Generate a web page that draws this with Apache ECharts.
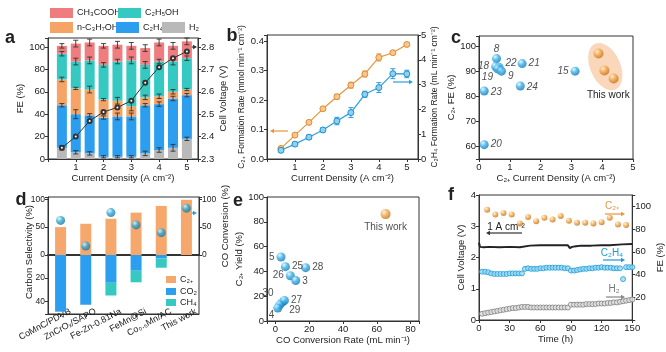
<!DOCTYPE html>
<html>
<head>
<meta charset="utf-8">
<script src="https://cdn.jsdelivr.net/npm/echarts@6/dist/echarts.min.js"></script>
<style>
html, body { margin: 0; padding: 0; background: #fff; }
#chart { width: 666px; height: 352px; }
</style>
</head>
<body>
<div id="chart"></div>
<script>
// ---- panel a : FE stack + cell voltage
var aCurrent = [0.5, 1, 1.5, 2, 2.5, 3, 3.5, 4, 4.5, 5];
var aH2      = [10, 6, 5, 2, 2, 2, 5, 8, 10, 18];
var aC2H4    = [38, 34, 34, 35, 36, 36, 43, 41, 44, 39];
var aPropOH  = [23, 23, 23, 16, 14, 9, 7, 7, 6, 5];
var aEtOH    = [23, 24, 26, 31, 35, 41, 29, 31, 27, 28];
var aAcetic  = [7, 16, 16, 17, 15, 13, 15, 17, 14, 15];
var aErrH2   = [2, 1.5, 1.5, 1, 1, 1, 2, 2, 3, 1.5];
var aErrC2H4 = [1.5, 4, 1.5, 1.5, 3, 3, 1.5, 2, 2, 1.5];
var aErrProp = [2, 1, 3, 1, 3, 4, 2, 2, 2, 1];
var aErrEtOH = [2, 3, 3, 2, 2, 3, 3, 2, 3, 2];
var aErrAcet = [2, 3, 3, 2, 3, 3, 3, 3, 3, 3];
var aVoltage = [2.35, 2.40, 2.47, 2.51, 2.53, 2.56, 2.64, 2.71, 2.75, 2.78];

// ---- panel b : formation rates
var bCurrent = [0.5, 1, 1.5, 2, 2.5, 3, 3.5, 4, 4.5, 5];
var bC2plus  = [0.036, 0.081, 0.124, 0.17, 0.211, 0.25, 0.288, 0.344, 0.36, 0.388];
var bC2plusErr = [0.004, 0.004, 0.004, 0.005, 0.008, 0.01, 0.01, 0.012, 0.005, 0.005];
var bC2H4    = [0.35, 0.6, 0.88, 1.17, 1.53, 1.87, 2.61, 2.88, 3.44, 3.43];
var bC2H4Err = [0.08, 0.08, 0.08, 0.08, 0.15, 0.2, 0.12, 0.2, 0.2, 0.15];

// ---- panel c : literature comparison
var cLabels = ['8', '18', '22', '19', '9', '21', '15', '24', '23', '20'];
var cJ      = [0.57, 0.54, 0.65, 0.6, 0.73, 1.4, 3.12, 1.34, 0.17, 0.17];
var cFE     = [95, 91.8, 91.6, 90.9, 90, 93, 90, 84.1, 82.1, 60.7];
var cOwnJ   = [3.88, 4.07, 4.37];
var cOwnFE  = [97, 90.3, 87.1];

// ---- panel d : thermocatalysis comparison
var dCatalysts = ['CoMnC/PDVB', 'ZnCrOₓ/SAPO', 'Fe-Zn-0.81Na', 'FeMn@Si', 'Co₀.₅Mn/AC', 'This work'];
var dC2plus = [50, 56, 65, 76, 88, 99];
var dCO2    = [49, 43, 24, 13.6, 3, 0];
var dCH4    = [0, 0, 11, 10, 8, 0];
var dCOconv = [62, 16, 76, 54, 40, 84];

// ---- panel e : yield vs conversion rate
var eLabels = ['5', '25', '28', '26', '3', '30', '27', '29', '4'];
var eRate   = [3.3, 5.9, 17.9, 8.8, 12, 3.9, 5.3, 2.5, 1.4];
var eYield  = [51.6, 43.8, 43, 36.5, 32.7, 15, 16.5, 13, 10.5];
var eOwnRate = [65.2];
var eOwnYield = [86.2];

// ---- panel f : stability
var fVt  = [0, 1, 5, 10, 20, 30, 40, 41, 50, 60, 70, 80, 87, 88, 89, 91, 95, 100, 110, 120, 128, 129, 140, 150];
var fV   = [2.47, 2.34, 2.33, 2.34, 2.33, 2.34, 2.33, 2.38, 2.38, 2.39, 2.39, 2.39, 2.39, 2.43, 2.30, 2.34, 2.36, 2.38, 2.38, 2.39, 2.39, 2.42, 2.42, 2.43];
var fC2t = [8, 16, 24, 32, 40, 48, 56, 64, 72, 80, 88, 96, 104, 112, 120, 128, 136, 144];
var fC2FE = [97, 92.8, 94.2, 92.8, 85, 90.7, 87, 89.9, 88.4, 91.6, 87.3, 85.6, 85.6, 85, 86.1, 89.9, 84.1, 83.5];
var fT = [3, 6, 9, 12, 15, 18, 21, 24, 27, 30, 33, 36, 39, 42, 45, 48, 51, 54, 57, 60, 63, 66, 69, 72, 75,
          78, 81, 84, 87, 90, 93, 96, 99, 102, 105, 108, 111, 114, 117, 120, 123, 126, 129, 132, 135, 138, 141, 144, 147, 150];
var fC2H4FE = [42.5, 42.5, 42, 41, 40.5, 40.5, 40.5, 40.5, 40.5, 41, 41, 41, 41, 41,
               45, 45.5, 45, 45, 45, 45.5, 45.5, 46, 46, 46, 46, 46, 46, 45.5, 45.5,
               43.5, 43.5, 44, 44.5, 45, 45, 45.5, 45.5, 46, 46, 46.5, 46, 46, 46, 45.5, 45.5, 45.5, 36, 46.5, 46.5, 46.5];
var fH2FE = [5.5, 6, 6.5, 7, 7.5, 8, 8.5, 9, 9.5, 10, 10.5, 10.5, 11, 11.5,
             11.5, 11.5, 11, 11, 11, 11, 11, 11, 11, 11, 11, 11, 11, 11, 11,
             13.5, 13.5, 13.5, 13.5, 13.5, 14, 14, 14, 14, 14.5, 14.5, 14.5, 15, 15, 15.5, 15.5, 16, 16.5, 17, 17.5, 18];

var FONT = '"Liberation Sans", Arial, sans-serif';
var INK = '#222';

function pairs(xs, ys) { return xs.map(function (x, i) { return [x, ys[i]]; }); }

function only(step, dec, hide) {
  return function (v) {
    var r = v / step;
    if (Math.abs(r - Math.round(r)) > 1e-6) return '';
    if (hide && hide.some(function (h) { return Math.abs(h - v) < 1e-6; })) return '';
    return v.toFixed(dec);
  };
}

function axis(type, o) {
  var a = {
    type: type, gridIndex: o.grid,
    name: o.name || '', nameLocation: 'middle', nameGap: o.gap || 20,
    nameTextStyle: { fontSize: o.nameSize || 9.5, color: INK, fontFamily: FONT },
    axisLine: { show: true, onZero: false, lineStyle: { color: '#333', width: o.lw || 1 } },
    axisTick: { show: o.tick !== false, length: 3, lineStyle: { color: '#333' } },
    axisLabel: { show: o.label !== false, fontSize: o.size || 9.5, color: INK, margin: o.margin || 3, fontFamily: FONT },
    splitLine: { show: false }
  };
  ['min', 'max', 'interval', 'position', 'inverse'].forEach(function (k) { if (o[k] !== undefined) a[k] = o[k]; });
  if (o.split) a.splitNumber = o.split;
  if (o.fmt) a.axisLabel.formatter = o.fmt;
  if (o.rotate) a.axisLabel.rotate = o.rotate;
  if (o.pad) a.axisLabel.padding = o.pad;
  if (type === 'category') {
    a.data = o.data; a.boundaryGap = true; a.axisTick.alignWithLabel = true;
    a.axisLabel.interval = 0; a.axisLabel.hideOverlap = false;
  }
  return a;
}

function sphere(light, mid, dark) {
  return new echarts.graphic.RadialGradient(0.35, 0.3, 0.75, [
    { offset: 0, color: light }, { offset: 0.45, color: mid }, { offset: 1, color: dark }
  ]);
}
var blueBall = sphere('#e2f6ff', '#39b0e8', '#1372b0');
var orangeBall = sphere('#fff0d6', '#f2a94e', '#c46e18');
var tealBall = sphere('#dff6ff', '#35a9d4', '#16739a');

function errRender(color) {
  return function (params, api) {
    var x = api.value(0), y = api.value(1), e = api.value(2);
    var lo = api.coord([x, y - e]), hi = api.coord([x, y + e]);
    var w = 2.5, st = { stroke: color, lineWidth: 0.9 };
    return { type: 'group', children: [
      { type: 'line', shape: { x1: lo[0], y1: lo[1], x2: hi[0], y2: hi[1] }, style: st },
      { type: 'line', shape: { x1: hi[0] - w, y1: hi[1], x2: hi[0] + w, y2: hi[1] }, style: st },
      { type: 'line', shape: { x1: lo[0] - w, y1: lo[1], x2: lo[0] + w, y2: lo[1] }, style: st }
    ]};
  };
}

// stacked FE bars on a value x axis: segment [x, bottom, top] drawn through the axis scales
function segRender(params, api) {
  var x = api.value(0);
  var p0 = api.coord([x, api.value(1)]), p1 = api.coord([x, api.value(2)]);
  var w = 10;
  return { type: 'rect', shape: { x: p0[0] - w / 2, y: p1[1], width: w, height: p0[1] - p1[1] }, style: api.style() };
}
var aParts = [aH2, aC2H4, aPropOH, aEtOH, aAcetic];
var aErrs = [aErrH2, aErrC2H4, aErrProp, aErrEtOH, aErrAcet];
var aSegs = aParts.map(function () { return []; });
var aErrData = [];
aCurrent.forEach(function (x, i) {
  var cum = 0;
  aParts.forEach(function (p, k) {
    aSegs[k].push([x, cum, cum + p[i]]);
    cum += p[i];
    aErrData.push([x, cum, aErrs[k][i]]);
  });
});

function arrow(x1, y1, x2, y2, color) {
  var dx = x2 - x1, dy = y2 - y1, L = Math.sqrt(dx * dx + dy * dy), ux = dx / L, uy = dy / L;
  var h = 4, w = 2.2;
  return [
    { type: 'line', shape: { x1: x1, y1: y1, x2: x2 - ux * h, y2: y2 - uy * h }, style: { stroke: color, lineWidth: 1.2 } },
    { type: 'polygon', shape: { points: [[x2, y2], [x2 - ux * h - uy * w, y2 - uy * h + ux * w], [x2 - ux * h + uy * w, y2 - uy * h - ux * w]] }, style: { fill: color } }
  ];
}
function txt(s, x, y, o) {
  o = o || {};
  return { type: 'text', x: x, y: y, rotation: o.rot || 0, style: {
    text: s, fill: o.color || INK, font: (o.weight || 'normal') + ' ' + (o.size || 10) + 'px ' + FONT,
    align: o.align || 'center', verticalAlign: 'middle' } };
}
function leg(name, left, top, w, h, fs) {
  return { data: [name], left: left, top: top, itemWidth: w, itemHeight: h, itemGap: 0, padding: 0,
    icon: 'rect', selectedMode: false, textStyle: { fontSize: fs, color: INK, fontFamily: FONT, padding: [0, 0, 0, -1] } };
}

var frame = { show: true, borderColor: '#333', borderWidth: 1 };
var grids = [
  Object.assign({ left: 48, top: 38, width: 150, height: 121 }, frame),   // a
  Object.assign({ left: 267, top: 35, width: 151, height: 124 }, frame),  // b
  Object.assign({ left: 479, top: 36, width: 154, height: 123 }, frame),  // c
  Object.assign({ left: 48, top: 197, width: 151, height: 58 }, frame),   // d upper
  Object.assign({ left: 48, top: 255, width: 151, height: 59 }, frame),   // d lower
  Object.assign({ left: 267, top: 197, width: 152, height: 124 }, frame), // e
  Object.assign({ left: 479, top: 195, width: 154, height: 125 }, frame)  // f
];

var xAxes = [
  axis('value', { grid: 0, min: 0, max: 5.4, interval: 1, fmt: only(1, 0, [0]), name: 'Current Density (A cm⁻²)', gap: 10 }),
  axis('value', { grid: 1, min: 0, max: 5.4, interval: 1, fmt: only(1, 0, [0]), name: 'Current Density (A cm⁻²)', gap: 10 }),
  axis('value', { grid: 2, min: 0, max: 5, interval: 1, fmt: only(1, 0), name: 'C₂₊ Current Density (A cm⁻²)', gap: 10 }),
  axis('category', { grid: 3, data: dCatalysts, label: false, tick: false, lw: 2 }),
  axis('category', { grid: 4, data: dCatalysts, rotate: 28, size: 9, margin: 2, pad: [12, -11, 0, 0] }),
  axis('value', { grid: 5, min: -5, max: 85, split: 5, fmt: only(20, 0), name: 'CO Conversion Rate (mL min⁻¹)', gap: 11 }),
  axis('value', { grid: 6, min: 0, max: 150, interval: 30, fmt: only(30, 0), name: 'Time (h)', gap: 11 })
];
var yAxes = [
  axis('value', { grid: 0, min: 0, max: 108, interval: 20, fmt: only(20, 0), name: 'FE (%)', gap: 13 }),
  axis('value', { grid: 0, min: 2.3, max: 2.84, interval: 0.1, position: 'right', fmt: only(0.1, 1), name: 'Cell Voltage (V)', gap: 16 }),
  axis('value', { grid: 1, min: 0, max: 0.42, interval: 0.1, fmt: only(0.1, 1), name: 'C₂₊ Formation Rate (mmol min⁻¹ cm⁻²)', gap: 21, nameSize: 8.5 }),
  axis('value', { grid: 1, min: 0, max: 5, interval: 1, position: 'right', fmt: only(1, 0), name: 'C₂H₄ Formation Rate (mL min⁻¹ cm⁻²)', gap: 11, nameSize: 8.5 }),
  axis('value', { grid: 2, min: 55, max: 104, split: 5, fmt: only(10, 0), name: 'C₂₊ FE (%)', gap: 14 }),
  axis('value', { grid: 3, min: 0, max: 104, interval: 50, fmt: only(50, 0), size: 8.5 }),
  axis('value', { grid: 3, min: 0, max: 104, interval: 50, position: 'right', fmt: only(50, 0), name: 'CO Conversion (%)', gap: 15, size: 8.5 }),
  axis('value', { grid: 4, min: 0, max: 51, interval: 20, inverse: true, fmt: only(20, 0, [0]), size: 8.5 }),
  axis('value', { grid: 5, min: 0, max: 100, interval: 20, fmt: only(20, 0), name: 'C₂₊ Yield (%)', gap: 14 }),
  axis('value', { grid: 6, min: 0, max: 4, interval: 1, fmt: only(1, 0), name: 'Cell Voltage (V)', gap: 8 }),
  axis('value', { grid: 6, min: 0, max: 110, interval: 20, position: 'right', fmt: only(20, 0, [0]), name: 'FE (%)', gap: 8 })
];

var aNames = ['H₂', 'C₂H₄', 'n-C₃H₇OH', 'C₂H₅OH', 'CH₃COOH'];
var aColors = ['#b9b9b9', '#2c9ef0', '#f6a466', '#35c9c1', '#ef7d80'];

var cData = cJ.map(function (x, i) { return { value: [x, cFE[i]], name: cLabels[i] }; });
var cLabelPos = ['top', 'left', 'right', 'left', 'right', 'right', 'left', 'right', 'right', 'right'];
var cLabelOff = [[0, 2], [0, 0], [0, -4], [2, 8], [0, 5], [0, 0], [0, 0], [0, 1], [0, 1], [0, 0]];
cData.forEach(function (d, i) { d.label = { position: cLabelPos[i], offset: cLabelOff[i] }; });

var eData = eRate.map(function (x, i) { return { value: [x, eYield[i]], name: eLabels[i] }; });
var eLabelPos = ['left', 'right', 'right', 'left', 'right', 'left', 'right', 'right', 'left'];
var eLabelOff = [[0, 0], [0, 0], [0, 0], [0, 0], [0, 1], [-2, -9], [0, 0], [3, 5], [3, 7]];
eData.forEach(function (d, i) { d.label = { position: eLabelPos[i], offset: eLabelOff[i] }; });

var series = aNames.map(function (n, k) {
  return { type: 'custom', name: n, xAxisIndex: 0, yAxisIndex: 0, renderItem: segRender,
    data: aSegs[k], encode: { x: 0, y: [1, 2] }, itemStyle: { color: aColors[k] } };
}).concat([
  { type: 'custom', xAxisIndex: 0, yAxisIndex: 0, renderItem: errRender('#333'), data: aErrData, z: 3, encode: { x: 0, y: 1 } },
  { type: 'line', name: 'aV', xAxisIndex: 0, yAxisIndex: 1, data: pairs(aCurrent, aVoltage), z: 4,
    symbol: 'emptyCircle', symbolSize: 4, lineStyle: { color: '#333', width: 1 }, itemStyle: { color: '#333', borderWidth: 1 } },

  { type: 'line', name: 'bC2', xAxisIndex: 1, yAxisIndex: 2, data: pairs(bCurrent, bC2plus),
    symbol: 'circle', symbolSize: 6, lineStyle: { color: '#e8953c', width: 1.2 },
    itemStyle: { color: '#f7c792', borderColor: '#e08a2e', borderWidth: 1 } },
  { type: 'custom', xAxisIndex: 1, yAxisIndex: 2, renderItem: errRender('#e08a2e'), encode: { x: 0, y: 1 },
    data: bCurrent.map(function (x, i) { return [x, bC2plus[i], bC2plusErr[i]]; }) },
  { type: 'line', name: 'bC2H4', xAxisIndex: 1, yAxisIndex: 3, data: pairs(bCurrent, bC2H4),
    symbol: 'circle', symbolSize: 6, lineStyle: { color: '#2b9fd8', width: 1.2 },
    itemStyle: { color: '#8fd0f2', borderColor: '#1d8fcf', borderWidth: 1 } },
  { type: 'custom', xAxisIndex: 1, yAxisIndex: 3, renderItem: errRender('#1d8fcf'), encode: { x: 0, y: 1 },
    data: bCurrent.map(function (x, i) { return [x, bC2H4[i], bC2H4Err[i]]; }) },

  { type: 'scatter', name: 'cLit', xAxisIndex: 2, yAxisIndex: 4, data: cData, symbolSize: 9,
    itemStyle: { color: blueBall },
    label: { show: true, formatter: '{b}', fontSize: 10, fontStyle: 'italic', color: INK, distance: 2, fontFamily: FONT } },
  { type: 'scatter', name: 'cOwn', xAxisIndex: 2, yAxisIndex: 4, data: pairs(cOwnJ, cOwnFE), symbolSize: 10,
    itemStyle: { color: orangeBall } },

  { type: 'bar', name: 'C₂₊', xAxisIndex: 3, yAxisIndex: 5, data: dC2plus, barWidth: 11, itemStyle: { color: '#f6a76c' } },
  { type: 'bar', name: 'CO₂', xAxisIndex: 4, yAxisIndex: 7, stack: 'side', data: dCO2, barWidth: 11, itemStyle: { color: '#2c9ef0' } },
  { type: 'bar', name: 'CH₄', xAxisIndex: 4, yAxisIndex: 7, stack: 'side', data: dCH4, barWidth: 11, itemStyle: { color: '#35c9c1' } },
  { type: 'scatter', name: 'dConv', xAxisIndex: 3, yAxisIndex: 6, data: dCOconv, symbolSize: 9, z: 5,
    itemStyle: { color: tealBall } },

  { type: 'scatter', name: 'eLit', xAxisIndex: 5, yAxisIndex: 8, data: eData, symbolSize: 9,
    itemStyle: { color: blueBall },
    label: { show: true, formatter: '{b}', fontSize: 10, color: INK, distance: 2, fontFamily: FONT } },
  { type: 'scatter', name: 'eOwn', xAxisIndex: 5, yAxisIndex: 8, data: pairs(eOwnRate, eOwnYield), symbolSize: 10,
    itemStyle: { color: orangeBall },
    label: { show: true, formatter: 'This work', position: 'bottom', distance: 3, fontSize: 10, color: INK, fontFamily: FONT } },

  { type: 'line', name: 'fV', xAxisIndex: 6, yAxisIndex: 9, data: pairs(fVt, fV), symbol: 'none',
    lineStyle: { color: '#222', width: 2 } },
  { type: 'scatter', name: 'fC2', xAxisIndex: 6, yAxisIndex: 10, data: pairs(fC2t, fC2FE), symbolSize: 6,
    itemStyle: { color: orangeBall } },
  { type: 'scatter', name: 'fC2H4', xAxisIndex: 6, yAxisIndex: 10, data: pairs(fT, fC2H4FE), symbolSize: 5,
    itemStyle: { color: '#9fdcf5', borderColor: '#1c9ad8', borderWidth: 1 } },
  { type: 'scatter', name: 'fH2', xAxisIndex: 6, yAxisIndex: 10, data: pairs(fT, fH2FE), symbolSize: 5,
    itemStyle: { color: '#e6e6e6', borderColor: '#7c7c7c', borderWidth: 1 } }
]);

var legends = [
  leg('CH₃COOH', 50, 8, 23, 10, 9),
  leg('C₂H₅OH', 118, 8, 23, 10, 9),
  leg('n-C₃H₇OH', 50, 22, 23, 11, 9),
  leg('C₂H₄', 116, 22, 23, 11, 9),
  leg('H₂', 162, 22, 23, 11, 9),
  leg('C₂₊', 166, 275, 10, 7, 9),
  leg('CO₂', 166, 287, 10, 7, 9),
  leg('CH₄', 166, 298, 10, 7, 9)
];

var graphics = [].concat(
  [txt('a', 10, 38, { size: 18, weight: 'bold' }),
   txt('b', 232, 36, { size: 18, weight: 'bold' }),
   txt('c', 456, 38, { size: 18, weight: 'bold' }),
   txt('d', 21, 200, { size: 18, weight: 'bold' }),
   txt('e', 238, 201, { size: 18, weight: 'bold' }),
   txt('f', 451, 195, { size: 18, weight: 'bold' }),
   txt('Carbon Selectivity (%)', 29, 252, { size: 9.5, rot: Math.PI / 2 }),
   txt('1 A cm⁻²', 506, 227, { size: 10 }),
   txt('C₂₊', 612, 206, { size: 10, color: '#e8953c' }),
   txt('C₂H₄', 612, 253, { size: 10, color: '#1c9ad8' }),
   txt('H₂', 614, 289, { size: 10, color: '#777' })],
  arrow(185, 47, 197, 47, '#333'),
  arrow(288, 131, 270, 131, '#e8953c'),
  arrow(393, 82, 413, 82, '#2b9fd8'),
  arrow(185, 213, 197, 213, '#3a9ad0'),
  arrow(522, 233, 486, 233, '#333'),
  arrow(605, 214, 625, 214, '#e8953c'),
  arrow(603, 260, 625, 260, '#1c9ad8'),
  arrow(606, 297, 625, 297, '#888')
);

var chart = echarts.init(document.getElementById('chart'));
chart.setOption({
  animation: false,
  textStyle: { fontFamily: FONT },
  grid: grids, xAxis: xAxes, yAxis: yAxes, legend: legends, series: series,
  graphic: graphics
});

// shaded ellipse around "This work" points in c, placed through the axis scales
var ctr = chart.convertToPixel({ xAxisIndex: 2, yAxisIndex: 4 }, [4.1, 91.8]);
chart.setOption({ graphic: graphics.concat([
  { type: 'ellipse', x: ctr[0], y: ctr[1], rotation: 0.42, z: 1,
    shape: { cx: 0, cy: 0, rx: 15, ry: 25 }, style: { fill: 'rgba(246,176,118,0.5)' } },
  txt('This work', ctr[0] + 3, 95, { size: 10 })
]) });
</script>
</body>
</html>
